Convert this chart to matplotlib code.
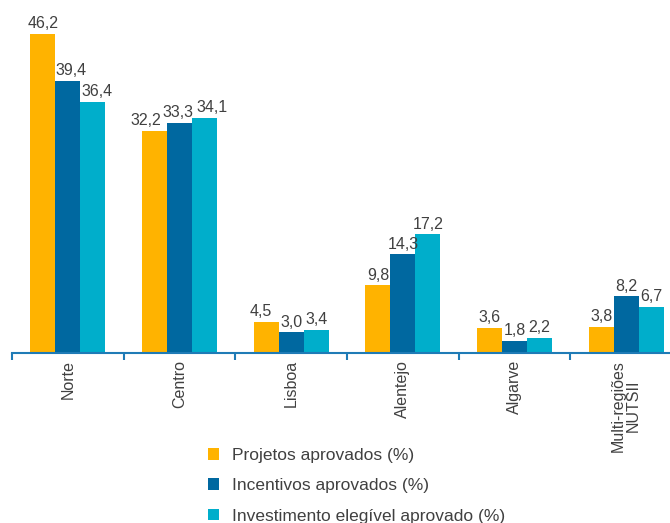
import matplotlib
matplotlib.use('Agg')
import matplotlib.pyplot as plt
import numpy as np

regioes = ["Norte", "Centro", "Lisboa", "Alentejo", "Algarve", "Multi-regiões\nNUTSII"]
projetos = [46.2, 32.2, 4.5, 9.8, 3.6, 3.8]
incentivos = [39.4, 33.3, 3.0, 14.3, 1.8, 8.2]
investimento = [36.4, 34.1, 3.4, 17.2, 2.2, 6.7]
series_labels = ["Projetos aprovados (%)", "Incentivos aprovados (%)",
                 "Investimento elegível aprovado (%)"]
cores = ["#FFB300", "#0068A0", "#00AECB"]

# small horizontal nudges (points) for labels that would collide
nudge = {(1, 0): 2, (2, 0): 3, (0, 1): -6, (1, 1): -1.5, (2, 1): 5, (0, 2): -4}

plt.rcParams['font.family'] = ['Liberation Sans', 'DejaVu Sans']

fig = plt.figure(figsize=(6.7, 5.23), dpi=100)
ax = fig.add_axes([0.018, 0.325, 1.0, 0.66])

x = np.arange(len(regioes))
w = 0.224
for i, vals in enumerate([projetos, incentivos, investimento]):
    bars = ax.bar(x + (i - 1) * w, vals, w, color=cores[i], label=series_labels[i])
    for j, (b, v) in enumerate(zip(bars, vals)):
        ax.annotate(f"{v:.1f}".replace(".", ","),
                    (b.get_x() + b.get_width() / 2, v),
                    xytext=(nudge.get((i, j), 0), 2), textcoords="offset points",
                    ha="center", va="bottom", fontsize=11.5, color="#404040")

ax.set_xlim(-0.5, len(regioes) - 0.5)
ax.set_ylim(0, 50)
ax.set_yticks([])
for s in ["top", "right", "left"]:
    ax.spines[s].set_visible(False)
ax.spines["bottom"].set_color("#1F7BB6")
ax.spines["bottom"].set_linewidth(1.5)

ax.set_xticks(np.arange(len(regioes) + 1) - 0.5)
ax.set_xticklabels([])
ax.tick_params(axis="x", which="major", length=5, width=1.5, color="#1F7BB6")
ax.set_xticks(x, minor=True)
ax.set_xticklabels(regioes, minor=True, rotation=90, fontsize=11.5,
                   color="#404040", ha="center", va="top", linespacing=1.0)
ax.tick_params(axis="x", which="minor", length=0, pad=5)

handles, labels = ax.get_legend_handles_labels()
fig.legend(handles, labels, loc="center left", bbox_to_anchor=(0.31, 0.071),
           frameon=False, fontsize=12.5, labelcolor="#404040",
           handlelength=0.65, handleheight=0.65, handletextpad=0.75,
           labelspacing=0.88, borderaxespad=0, borderpad=0)

plt.savefig("out.png", dpi=100)
